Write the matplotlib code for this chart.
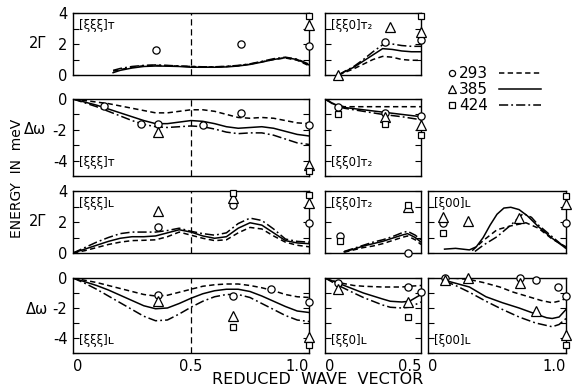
import numpy as np
import matplotlib
matplotlib.use("Agg")
import matplotlib.pyplot as plt

plt.rcParams['font.family'] = ['DejaVu Sans']
plt.rcParams['axes.unicode_minus'] = False

# ---- curves: temperatures 293 (dashed), 385 (solid), 424 (dash-dot) ----
temps = ['293', '385', '424']

# row 1, [xxx]T, 2 Gamma
r1c1_x = [0.17, 0.2, 0.25, 0.3, 0.35, 0.4, 0.45, 0.5, 0.55, 0.6, 0.65, 0.7, 0.75, 0.8, 0.85, 0.9, 0.95, 1.0]
r1c1_293 = [0.25, 0.35, 0.5, 0.6, 0.62, 0.6, 0.57, 0.55, 0.52, 0.52, 0.55, 0.6, 0.7, 0.85, 1.0, 1.1, 0.95, 0.6]
r1c1_385 = [0.15, 0.3, 0.45, 0.55, 0.58, 0.57, 0.55, 0.5, 0.5, 0.5, 0.52, 0.58, 0.68, 0.83, 1.0, 1.12, 1.0, 0.65]
r1c1_424 = [0.3, 0.42, 0.55, 0.62, 0.65, 0.62, 0.58, 0.55, 0.53, 0.53, 0.56, 0.62, 0.72, 0.88, 1.05, 1.15, 1.02, 0.7]

# row 1, [xx0]T2, 2 Gamma
r1c2_x = [0.07, 0.1, 0.15, 0.2, 0.25, 0.3, 0.35, 0.4, 0.45, 0.5]
r1c2_293 = [0, 0.15, 0.4, 0.7, 1.0, 1.2, 1.15, 1.0, 0.95, 0.95]
r1c2_385 = [0, 0.2, 0.5, 0.9, 1.3, 1.7, 1.65, 1.55, 1.5, 1.5]
r1c2_424 = [0, 0.22, 0.55, 1.0, 1.5, 1.95, 2.0, 1.9, 1.85, 1.85]

# row 2, [xxx]T, delta omega
r2c1_x = [0, 0.05, 0.1, 0.15, 0.2, 0.25, 0.3, 0.35, 0.4, 0.45, 0.5, 0.55, 0.6, 0.65, 0.7, 0.75, 0.8, 0.85, 0.9, 0.95, 1.0]
r2c1_293 = [0, -0.1, -0.2, -0.3, -0.45, -0.6, -0.75, -0.9, -0.9, -0.8, -0.7, -0.7, -0.8, -1.0, -1.2, -1.25, -1.2, -1.25, -1.4, -1.55, -1.6]
r2c1_385 = [0, -0.2, -0.4, -0.65, -0.9, -1.15, -1.4, -1.6, -1.6, -1.5, -1.4, -1.45, -1.6, -1.8, -1.9, -1.85, -1.8, -1.9, -2.1, -2.3, -2.4]
r2c1_424 = [0, -0.25, -0.5, -0.8, -1.1, -1.4, -1.65, -1.8, -1.85, -1.8, -1.75, -1.8, -1.95, -2.15, -2.25, -2.2, -2.2, -2.35, -2.6, -2.85, -2.95]

# row 2, [xx0]T2, delta omega
r2c2_x = [0, 0.05, 0.1, 0.2, 0.3, 0.4, 0.5]
r2c2_293 = [0, -0.35, -0.5, -0.5, -0.5, -0.5, -0.5]
r2c2_385 = [0, -0.35, -0.55, -0.7, -0.85, -1.0, -1.15]
r2c2_424 = [0, -0.4, -0.6, -0.8, -1.0, -1.15, -1.35]

# row 3, [xxx]L, 2 Gamma
r3c1_x = [0, 0.05, 0.1, 0.15, 0.2, 0.25, 0.3, 0.35, 0.4, 0.45, 0.5, 0.55, 0.6, 0.65, 0.7, 0.75, 0.8, 0.85, 0.9, 0.95, 1.0]
r3c1_293 = [0, 0.15, 0.35, 0.55, 0.7, 0.8, 0.82, 0.85, 1.05, 1.35, 1.15, 0.95, 0.8, 0.85, 1.3, 1.65, 1.55, 1.1, 0.7, 0.5, 0.4]
r3c1_385 = [0, 0.25, 0.5, 0.75, 0.95, 1.05, 1.05, 1.1, 1.3, 1.5, 1.35, 1.1, 0.95, 1.05, 1.6, 1.95, 1.8, 1.3, 0.8, 0.65, 0.6]
r3c1_424 = [0, 0.35, 0.7, 1.0, 1.25, 1.35, 1.35, 1.35, 1.45, 1.6, 1.4, 1.25, 1.15, 1.3, 1.9, 2.25, 2.1, 1.55, 0.9, 0.75, 0.7]

# row 3, [xx0]T2, 2 Gamma
r3c2_x = [0.1, 0.15, 0.2, 0.25, 0.3, 0.35, 0.4, 0.43, 0.47, 0.5]
r3c2_293 = [0.05, 0.2, 0.35, 0.45, 0.6, 0.8, 1.0, 1.1, 0.85, 0.55]
r3c2_385 = [0.08, 0.25, 0.45, 0.6, 0.75, 0.95, 1.15, 1.25, 1.0, 0.7]
r3c2_424 = [0.1, 0.3, 0.5, 0.7, 0.85, 1.05, 1.3, 1.4, 1.15, 0.85]

# row 3, [x00]L, 2 Gamma (each curve has its own x)
r3c3_x293 = [0.32, 0.4, 0.5, 0.6, 0.71, 0.8, 0.9, 1.0]
r3c3_293 = [0.15, 0.8, 1.5, 1.75, 1.95, 1.6, 0.9, 0.4]
r3c3_x385 = [0.12, 0.2, 0.3, 0.35, 0.4, 0.45, 0.5, 0.55, 0.6, 0.66, 0.72, 0.8, 0.9, 1.0]
r3c3_385 = [0.25, 0.3, 0.2, 0.4, 1.0, 1.8, 2.5, 2.9, 2.95, 2.8, 2.4, 1.7, 0.95, 0.3]
r3c3_x424 = [0.34, 0.4, 0.5, 0.6, 0.69, 0.75, 0.8, 0.9, 1.0]
r3c3_424 = [0.1, 0.5, 1.05, 1.8, 2.55, 2.3, 1.8, 1.05, 0.3]

# row 4, [xxx]L, delta omega
r4c1_x = [0, 0.05, 0.1, 0.15, 0.2, 0.25, 0.3, 0.35, 0.4, 0.45, 0.5, 0.55, 0.6, 0.65, 0.7, 0.75, 0.8, 0.85, 0.9, 0.95, 1.0]
r4c1_293 = [0, -0.15, -0.3, -0.5, -0.7, -0.9, -1.1, -1.2, -1.15, -0.95, -0.75, -0.55, -0.45, -0.4, -0.4, -0.5, -0.65, -0.85, -1.1, -1.25, -1.3]
r4c1_385 = [0, -0.25, -0.5, -0.8, -1.15, -1.5, -1.85, -2.05, -2.0, -1.7, -1.35, -1.05, -0.85, -0.75, -0.75, -0.9, -1.2, -1.55, -1.9, -2.2, -2.3]
r4c1_424 = [0, -0.35, -0.75, -1.2, -1.65, -2.1, -2.55, -2.85, -2.8, -2.4, -1.95, -1.55, -1.25, -1.1, -1.1, -1.3, -1.7, -2.1, -2.5, -2.8, -2.9]

# row 4, [xx0]L, delta omega
r4c2_x = [0, 0.07, 0.15, 0.2, 0.3, 0.34, 0.4, 0.44, 0.5]
r4c2_293 = [0, -0.3, -0.5, -0.55, -0.6, -0.6, -0.6, -0.55, -0.5]
r4c2_385 = [0, -0.35, -0.75, -1.0, -1.4, -1.55, -1.6, -1.55, -1.1]
r4c2_424 = [0, -0.5, -1.0, -1.3, -1.8, -1.95, -2.0, -1.95, -1.6]

# row 4, [x00]L, delta omega
r4c3_x293 = [0.12, 0.2, 0.3, 0.4, 0.52, 0.62, 0.73, 0.82, 0.9, 0.97, 1.0]
r4c3_293 = [0, -0.02, -0.1, -0.3, -0.6, -0.95, -1.25, -1.5, -1.65, -1.5, -1.3]
r4c3_x385 = [0.12, 0.2, 0.3, 0.42, 0.54, 0.66, 0.78, 0.86, 0.9, 0.95, 1.0]
r4c3_385 = [-0.15, -0.35, -0.6, -1.25, -1.65, -2.0, -2.4, -2.65, -2.7, -2.6, -2.1]
r4c3_x424 = [0.12, 0.2, 0.3, 0.42, 0.54, 0.66, 0.78, 0.9, 0.95, 1.0]
r4c3_424 = [-0.2, -0.5, -0.95, -1.55, -2.1, -2.6, -3.0, -3.25, -3.1, -2.7]

# ---- measured points (x, y) per temperature ----
p_r1c1 = {'293': ([0.35, 0.71, 1.0], [1.6, 2.0, 1.9]),
          '385': ([1.0], [3.2]),
          '424': ([1.0], [3.8])}
p_r1c2 = {'293': ([0.31, 0.5], [2.1, 2.25]),
          '385': ([0.07, 0.34, 0.5], [0.0, 3.1, 2.8]),
          '424': ([0.5], [3.8])}
p_r2c1 = {'293': ([0.13, 0.29, 0.36, 0.55, 0.71, 1.0], [-0.45, -1.6, -1.6, -1.7, -0.9, -1.7]),
          '385': ([0.36, 1.0], [-2.15, -4.3]),
          '424': ([1.0], [-4.65])}
p_r2c2 = {'293': ([0.07, 0.31, 0.5], [-0.5, -0.9, -1.1]),
          '385': ([0.31, 0.5], [-1.2, -1.7]),
          '424': ([0.07, 0.31, 0.5], [-1.0, -1.6, -2.35])}
p_r3c1 = {'293': ([0.36, 0.68, 1.0], [1.7, 3.1, 1.95]),
          '385': ([0.36, 0.68, 1.0], [2.7, 3.55, 3.2]),
          '424': ([0.68, 1.0], [3.85, 3.75])}
p_r3c2 = {'293': ([0.08, 0.43], [1.1, 0.0]),
          '385': ([0.43], [2.95]),
          '424': ([0.08, 0.43], [0.8, 3.1])}
p_r3c3 = {'293': ([0.11, 1.0], [1.95, 1.95]),
          '385': ([0.11, 0.29, 0.66, 1.0], [2.3, 2.05, 2.25, 3.15]),
          '424': ([0.11, 1.0], [1.3, 3.7])}
p_r4c1 = {'293': ([0.36, 0.68, 0.84, 1.0], [-1.15, -1.2, -0.75, -1.6]),
          '385': ([0.36, 0.68, 1.0], [-1.5, -2.5, -3.9]),
          '424': ([0.68, 1.0], [-3.25, -4.45])}
p_r4c2 = {'293': ([0.07, 0.43, 0.5], [-0.3, -0.6, -0.9]),
          '385': ([0.07, 0.43], [-0.7, -1.6]),
          '424': ([0.43], [-2.6])}
p_r4c3 = {'293': ([0.12, 0.67, 0.78, 0.94, 1.0], [0.0, 0.0, -0.1, -0.6, -1.2]),
          '385': ([0.12, 0.29, 0.67, 0.78, 1.0], [-0.15, 0.0, -0.35, -2.2, -3.8]),
          '424': ([1.0], [-4.45])}

styles = {'293': dict(ls=(0, (3.5, 2.2))), '385': dict(ls='-'), '424': dict(ls=(0, (6, 2, 1.2, 2)))}
marks = {'293': dict(marker='o', ms=5.2), '385': dict(marker='^', ms=6.8), '424': dict(marker='s', ms=4.8)}

W, H = 572, 392
fig = plt.figure(figsize=(W / 100, H / 100), dpi=100)


def box(l, t, r, b):
    return fig.add_axes([l / W, 1 - b / H, (r - l) / W, (b - t) / H])


rows = [(13, 75), (99, 176), (191, 253), (278, 353)]
cols = [(73, 309), (325, 421), (428, 566)]


def panel(ri, ci, curves, pts, label, label_top, gamma):
    t, b = rows[ri]
    l, r = cols[ci]
    ax = box(l, t, r, b)
    xmax = 0.5 if ci == 1 else 1.0
    ax.set_xlim(0, xmax)
    if gamma:
        ax.set_ylim(0, 4)
        ax.set_yticks([0, 1, 2, 3, 4])
        lab = ['0', '', '2', '', '4']
    else:
        ax.set_ylim(-5, 0)
        ax.set_yticks([0, -1, -2, -3, -4, -5])
        lab = ['0', '', '-2', '', '-4', '']
    ax.set_yticklabels(lab if ci == 0 else [''] * len(lab), fontsize=10.5)
    ax.tick_params(axis='y', direction='in', left=True, right=True, length=4, width=0.8, pad=4)
    ax.tick_params(axis='x', length=0)
    for s in ax.spines.values():
        s.set_linewidth(1.0)
    for temp, (xs, ys) in zip(temps, curves):
        ax.plot(xs, ys, color='black', lw=1.1, **styles[temp])
    for temp in temps:
        xs, ys = pts[temp]
        ax.plot(xs, ys, ls='none', mfc='white', mec='black', mew=0.9,
                clip_on=False, zorder=5, **marks[temp])
    if ci == 0:
        ax.axvline(0.5, color='black', lw=0.9, ls=(0, (5, 3)))
    fx = 6 / (r - l)
    ax.text(fx, 0.8 if label_top else 0.17, label, transform=ax.transAxes,
            fontsize=8.5, ha='left', va='center')
    if ri == 3:
        if ci == 0:
            ax.set_xticks([0, 0.5, 1.0])
            ax.set_xticklabels(['0', '0.5', '1.0'], fontsize=10.5)
            ha = ['left', 'center', 'right']
        elif ci == 1:
            ax.set_xticks([0, 0.5])
            ax.set_xticklabels(['0', '0.5'], fontsize=10.5)
            ha = ['left', 'right']
        else:
            ax.set_xticks([0, 1.0])
            ax.set_xticklabels(['0', '1.0'], fontsize=10.5)
            ha = ['left', 'right']
        for tl, h in zip(ax.get_xticklabels(), ha):
            tl.set_ha(h)
        ax.tick_params(axis='x', pad=4)
    else:
        ax.set_xticks([])
    return ax


panel(0, 0, [(r1c1_x, r1c1_293), (r1c1_x, r1c1_385), (r1c1_x, r1c1_424)], p_r1c1, '[ξξξ]ᴛ', True, True)
panel(0, 1, [(r1c2_x, r1c2_293), (r1c2_x, r1c2_385), (r1c2_x, r1c2_424)], p_r1c2, '[ξξ0]ᴛ₂', True, True)
panel(1, 0, [(r2c1_x, r2c1_293), (r2c1_x, r2c1_385), (r2c1_x, r2c1_424)], p_r2c1, '[ξξξ]ᴛ', False, False)
panel(1, 1, [(r2c2_x, r2c2_293), (r2c2_x, r2c2_385), (r2c2_x, r2c2_424)], p_r2c2, '[ξξ0]ᴛ₂', False, False)
panel(2, 0, [(r3c1_x, r3c1_293), (r3c1_x, r3c1_385), (r3c1_x, r3c1_424)], p_r3c1, '[ξξξ]ʟ', True, True)
panel(2, 1, [(r3c2_x, r3c2_293), (r3c2_x, r3c2_385), (r3c2_x, r3c2_424)], p_r3c2, '[ξξ0]ᴛ₂', True, True)
panel(2, 2, [(r3c3_x293, r3c3_293), (r3c3_x385, r3c3_385), (r3c3_x424, r3c3_424)], p_r3c3, '[ξ00]ʟ', True, True)
panel(3, 0, [(r4c1_x, r4c1_293), (r4c1_x, r4c1_385), (r4c1_x, r4c1_424)], p_r4c1, '[ξξξ]ʟ', False, False)
panel(3, 1, [(r4c2_x, r4c2_293), (r4c2_x, r4c2_385), (r4c2_x, r4c2_424)], p_r4c2, '[ξξ0]ʟ', False, False)
panel(3, 2, [(r4c3_x293, r4c3_293), (r4c3_x385, r4c3_385), (r4c3_x424, r4c3_424)], p_r4c3, '[ξ00]ʟ', False, False)

# side labels
fig.text(38 / W, 1 - 44 / H, '2Γ', fontsize=10.5, ha='center', va='center')
fig.text(38 / W, 1 - 222 / H, '2Γ', fontsize=10.5, ha='center', va='center')
fig.text(35 / W, 1 - 129 / H, 'Δω', fontsize=10.5, ha='center', va='center')
fig.text(37 / W, 1 - 310 / H, 'Δω', fontsize=10.5, ha='center', va='center')
fig.text(17 / W, 1 - 178 / H, 'ENERGY  IN  meV', fontsize=10, rotation=90, ha='center', va='center')
fig.text(318 / W, 1 - 380 / H, 'REDUCED  WAVE  VECTOR', fontsize=11.5, ha='center', va='center')

# legend
lg = box(445, 62, 548, 112)
lg.set_xlim(445, 548)
lg.set_ylim(112, 62)
lg.axis('off')
for temp, yy in zip(temps, [73, 89, 105]):
    lg.plot([452], [yy], ls='none', mfc='white', mec='black', mew=0.9,
            **dict(marks[temp], ms=marks[temp]['ms'] * 0.85))
    lg.text(459, yy, temp, fontsize=11, ha='left', va='center')
    lg.plot([499, 541], [yy, yy], color='black', lw=1.1, **styles[temp])

fig.savefig('out.png', dpi=100)
